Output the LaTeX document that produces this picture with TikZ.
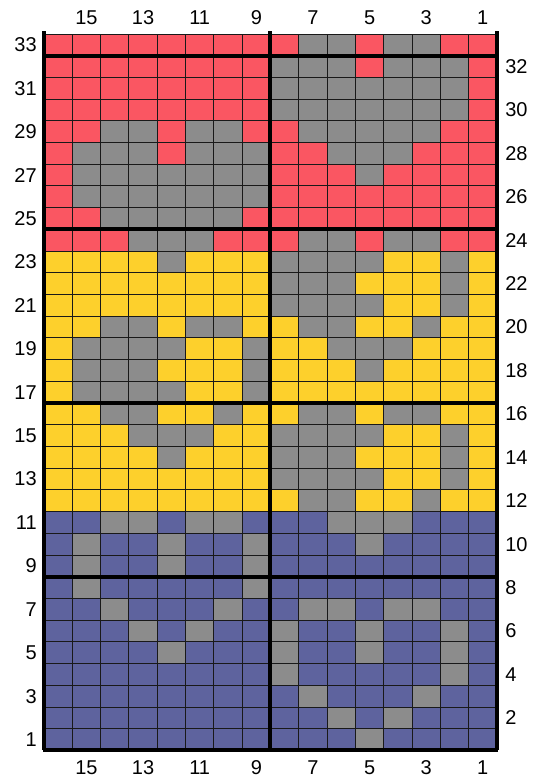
\documentclass[tikz,border=0pt]{standalone}
\usepackage{fontspec}
\setmainfont{Liberation Sans}
\definecolor{cR}{RGB}{250,86,98}
\definecolor{cG}{RGB}{140,140,140}
\definecolor{cY}{RGB}{253,208,44}
\definecolor{cB}{RGB}{94,99,158}
\begin{document}
\begin{tikzpicture}[x=0.75pt,y=-0.75pt,
  lbl/.style={inner sep=0pt,font=\fontsize{15}{18}\selectfont},
  thinline/.style={draw=black!90,line width=0.75pt},
  thickline/.style={draw=black,line width=3pt}]
\useasboundingbox[fill=white] (0,0) rectangle (536,779);
\def\xl{44}\def\cw{28.31}\def\yt{34}\def\rh{21.71}
\foreach \row [count=\i] in {
{R,R,R,R,R,R,R,R,R,G,G,R,G,G,R,R},
{R,R,R,R,R,R,R,R,G,G,G,R,G,G,G,R},
{R,R,R,R,R,R,R,R,G,G,G,G,G,G,G,R},
{R,R,R,R,R,R,R,R,G,G,G,G,G,G,G,R},
{R,R,G,G,R,G,G,R,R,G,G,G,G,G,R,R},
{R,G,G,G,R,G,G,G,R,R,G,G,G,R,R,R},
{R,G,G,G,G,G,G,G,R,R,R,G,R,R,R,R},
{R,G,G,G,G,G,G,G,R,R,R,R,R,R,R,R},
{R,R,G,G,G,G,G,R,R,R,R,R,R,R,R,R},
{R,R,R,G,G,G,R,R,R,G,G,R,G,G,R,R},
{Y,Y,Y,Y,G,Y,Y,Y,G,G,G,G,Y,Y,G,Y},
{Y,Y,Y,Y,Y,Y,Y,Y,G,G,G,Y,Y,Y,G,Y},
{Y,Y,Y,Y,Y,Y,Y,Y,G,G,G,G,Y,Y,G,Y},
{Y,Y,G,G,Y,G,G,Y,Y,G,G,Y,Y,G,Y,Y},
{Y,G,G,G,G,Y,Y,G,Y,Y,G,G,G,Y,Y,Y},
{Y,G,G,G,Y,Y,Y,G,Y,Y,Y,G,Y,Y,Y,Y},
{Y,G,G,G,G,Y,Y,G,Y,Y,Y,Y,Y,Y,Y,Y},
{Y,Y,G,G,Y,Y,G,Y,Y,G,G,Y,G,G,Y,Y},
{Y,Y,Y,G,G,G,Y,Y,G,G,G,G,Y,Y,G,Y},
{Y,Y,Y,Y,G,Y,Y,Y,G,G,G,Y,Y,Y,G,Y},
{Y,Y,Y,Y,Y,Y,Y,Y,G,G,G,G,Y,Y,G,Y},
{Y,Y,Y,Y,Y,Y,Y,Y,Y,G,G,Y,Y,G,Y,Y},
{B,B,G,G,B,G,G,B,B,B,G,G,G,B,B,B},
{B,G,B,B,G,B,B,G,B,B,B,G,B,B,B,B},
{B,G,B,B,G,B,B,G,B,B,B,B,B,B,B,B},
{B,G,B,B,B,B,B,G,B,B,B,B,B,B,B,B},
{B,B,G,B,B,B,G,B,B,G,G,B,G,G,B,B},
{B,B,B,G,B,G,B,B,G,B,B,G,B,B,G,B},
{B,B,B,B,G,B,B,B,G,B,B,G,B,B,G,B},
{B,B,B,B,B,B,B,B,G,B,B,B,B,B,G,B},
{B,B,B,B,B,B,B,B,B,G,B,B,B,G,B,B},
{B,B,B,B,B,B,B,B,B,B,G,B,G,B,B,B},
{B,B,B,B,B,B,B,B,B,B,B,G,B,B,B,B}}{
  \foreach \c [count=\j] in \row {
    \fill[fill=c\c] ({\xl+(\j-1)*\cw},{\yt+(\i-1)*\rh}) rectangle ++(\cw,\rh);
  }
}
% thin grid
\foreach \k in {0,...,16}
  \draw[thinline] ({\xl+\k*\cw},{\yt}) -- ({\xl+\k*\cw},{\yt+33*\rh});
\foreach \k in {0,...,33}
  \draw[thinline] ({\xl},{\yt+\k*\rh}) -- ({\xl+16*\cw},{\yt+\k*\rh});
% thick lines
\foreach \k in {1,9,17,25}
  \draw[thickline] ({\xl},{\yt+\k*\rh}) -- ({\xl+16*\cw},{\yt+\k*\rh});
\draw[thickline] ({\xl-1.5},{\yt+33*\rh}) -- ({\xl+16*\cw+1.5},{\yt+33*\rh});
\foreach \k in {0,8,16}
  \draw[thickline] ({\xl+\k*\cw},{\yt-3}) -- ({\xl+\k*\cw},{\yt+33*\rh});
% labels
\foreach \c in {15,13,...,1}{
  \node[lbl] (t\c) at ({\xl+(16-\c+0.5)*\cw},18) {\c};
  \node[lbl] (b\c) at ({\xl+(16-\c+0.5)*\cw},768) {\c};
}
\foreach \r in {33,31,...,1}
  \node[lbl,anchor=east] (l\r) at (37,{\yt+(33-\r+0.5)*\rh}) {\r};
\foreach \r in {32,30,...,2}
  \node[lbl,anchor=west] (r\r) at (505,{\yt+(33-\r+0.5)*\rh}) {\r};
\end{tikzpicture}
\end{document}
